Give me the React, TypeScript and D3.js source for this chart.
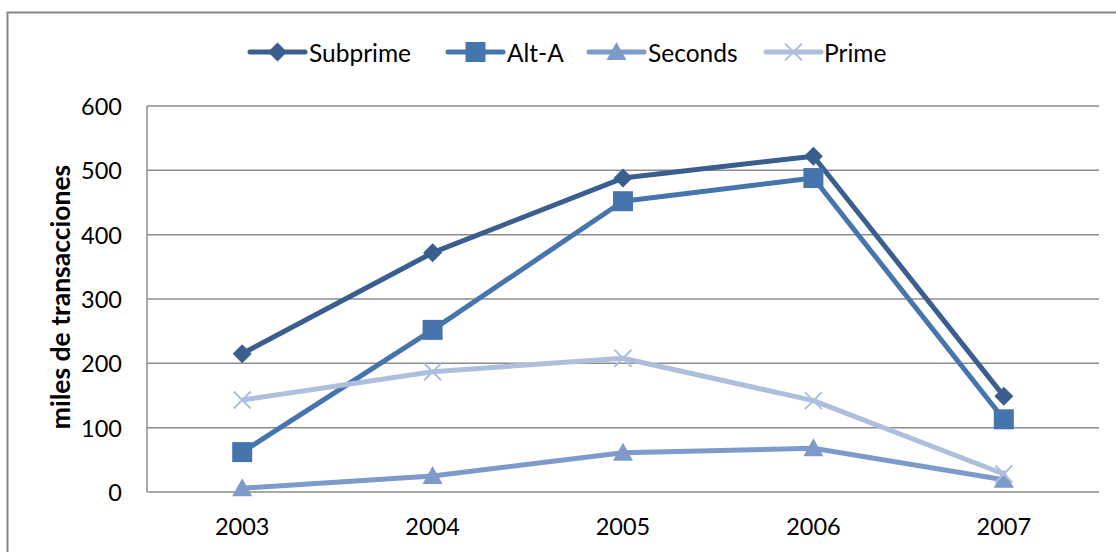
import React from "react";
import * as d3 from "d3";

const years = ["2003", "2004", "2005", "2006", "2007"];
const subprime = [215, 372, 488, 522, 149];
const altA = [62, 252, 452, 488, 113];
const seconds = [6, 25, 61, 68, 19];
const prime = [143, 187, 208, 142, 28];
const yTicks = [0, 100, 200, 300, 400, 500, 600];

const seriesNames = ["Subprime", "Alt-A", "Seconds", "Prime"];
const seriesColors = ["#3A5F8F", "#4674AD", "#7C9BCB", "#ADBFDC"];
const seriesMarkers = ["diamond", "square", "triangle", "x"];

const W = 1116;
const H = 552;
const FONT = "Lato, 'Open Sans', sans-serif";

function Marker({ type, x, y, color }: { type: string; x: number; y: number; color: string }) {
  if (type === "diamond") {
    const r = 9.5;
    return <path d={`M${x},${y - r}L${x + r},${y}L${x},${y + r}L${x - r},${y}Z`} fill={color} />;
  }
  if (type === "square") {
    const r = 10;
    return <rect x={x - r} y={y - r} width={2 * r} height={2 * r} fill={color} />;
  }
  if (type === "triangle") {
    return <path d={`M${x},${y - 10}L${x + 10},${y + 8}L${x - 10},${y + 8}Z`} fill={color} />;
  }
  const r = 8.5;
  return (
    <path
      d={`M${x - r},${y - r}L${x + r},${y + r}M${x - r},${y + r}L${x + r},${y - r}`}
      stroke={color}
      strokeWidth={2}
      fill="none"
    />
  );
}

export default function App() {
  const left = 147;
  const right = 1099;
  const top = 106;
  const bottom = 492;

  const x = d3.scaleBand<string>().domain(years).range([left, right]).padding(0);
  const cx = (yr: string) => (x(yr) as number) + x.bandwidth() / 2;
  const y = d3.scaleLinear().domain([0, 600]).range([bottom, top]);

  const data = [subprime, altA, seconds, prime];
  const line = d3
    .line<number>()
    .x((_, i) => cx(years[i]))
    .y((d) => y(d));

  const legendItems = [
    { lineX: 250, textX: 309 },
    { lineX: 448, textX: 507 },
    { lineX: 589, textX: 648 },
    { lineX: 766, textX: 824 },
  ];
  const legendY = 52;

  return (
    <svg width={W} height={H} style={{ position: "absolute", left: 0, top: 0, background: "#fff" }}>
      <rect x={7.5} y={12.5} width={1200} height={600} fill="#fff" stroke="#868686" strokeWidth={2} />
      {yTicks.map((t) => (
        <line key={t} x1={left} x2={right} y1={y(t)} y2={y(t)} stroke="#8C8C8C" strokeWidth={1.5} />
      ))}
      <line x1={left} x2={left} y1={top} y2={bottom} stroke="#8C8C8C" strokeWidth={1.5} />
      {yTicks.map((t) => (
        <text
          key={t}
          x={122}
          y={y(t)}
          textAnchor="end"
          dominantBaseline="central"
          fontFamily={FONT}
          fontSize={23.5}
          fill="#000"
        >
          {t}
        </text>
      ))}
      {years.map((yr) => (
        <text
          key={yr}
          x={cx(yr)}
          y={526}
          textAnchor="middle"
          dominantBaseline="central"
          fontFamily={FONT}
          fontSize={23.5}
          fill="#000"
        >
          {yr}
        </text>
      ))}
      <text
        transform={`translate(60,297) rotate(-90)`}
        textAnchor="middle"
        dominantBaseline="central"
        fontFamily={FONT}
        fontSize={26.5}
        fontWeight="bold"
        fill="#000"
      >
        miles de transacciones
      </text>
      {data.map((vals, si) => (
        <g key={si}>
          <path d={line(vals) || ""} fill="none" stroke={seriesColors[si]} strokeWidth={5} strokeLinejoin="round" />
          {vals.map((v, i) => (
            <Marker key={i} type={seriesMarkers[si]} x={cx(years[i])} y={y(v)} color={seriesColors[si]} />
          ))}
        </g>
      ))}
      {seriesNames.map((name, si) => {
        const it = legendItems[si];
        return (
          <g key={name}>
            <line
              x1={it.lineX}
              x2={it.lineX + 55}
              y1={legendY}
              y2={legendY}
              stroke={seriesColors[si]}
              strokeWidth={5}
              strokeLinecap="round"
            />
            <Marker type={seriesMarkers[si]} x={it.lineX + 27.5} y={legendY} color={seriesColors[si]} />
            <text
              x={it.textX}
              y={legendY}
              dominantBaseline="central"
              fontFamily={FONT}
              fontSize={24.5}
              fill="#000"
            >
              {name}
            </text>
          </g>
        );
      })}
    </svg>
  );
}
